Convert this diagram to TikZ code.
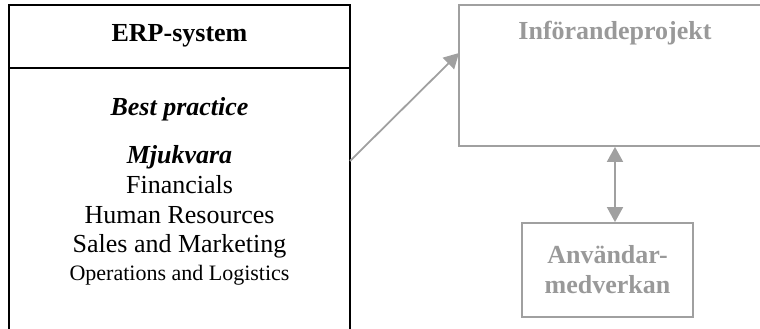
\documentclass[tikz,border=0pt]{standalone}
\usepackage{fontspec}
\setmainfont{Liberation Serif}
\usetikzlibrary{arrows.meta}
\definecolor{linegray}{RGB}{160,160,160}
\definecolor{textgray}{RGB}{153,153,153}
\begin{document}
\begin{tikzpicture}[x=1pt,y=-1pt,
  blackbox/.style={draw=black,line width=1.3pt,rectangle,inner sep=0pt},
  graybox/.style={draw=linegray,line width=1.8pt,rectangle,inner sep=0pt},
  label/.style={anchor=base,inner sep=0pt,font=\fontsize{26}{29.5}\selectfont},
  small/.style={anchor=base,inner sep=0pt,font=\fontsize{22}{26}\selectfont},
  grayarrow/.style={draw=linegray,line width=1.8pt,-{Triangle[length=15pt,width=16pt]}}]
\clip (0,0) rectangle (760,329);
% ERP system box (open at the bottom of the page)
\node[blackbox,minimum width=341pt,minimum height=340pt] (erp) at (179.5,175) {};
\draw[black,line width=1.3pt] (9,68) coordinate (divl) -- (350,68) coordinate (divr);
\node[label,font=\fontsize{26}{29.5}\selectfont\bfseries] (erptitle) at (179.5,42) {ERP-system};
\node[label,font=\fontsize{26}{29.5}\selectfont\bfseries\itshape] (best) at (179.5,115) {Best practice};
\node[label,font=\fontsize{26}{29.5}\selectfont\bfseries\itshape] (mjuk) at (179.5,163) {Mjukvara};
\node[label] (fin) at (179.5,193) {Financials};
\node[label] (hr) at (179.5,223) {Human Resources};
\node[label] (sales) at (179.5,252) {Sales and Marketing};
\node[small] (ops) at (179.5,280) {Operations and Logistics};
% implementation project box
\node[graybox,minimum width=312pt,minimum height=141pt] (inf) at (615,75.5) {};
\node[label,font=\fontsize{26}{29.5}\selectfont\bfseries,text=textgray] (inftitle) at (615,40) {Införandeprojekt};
% user participation box
\node[graybox,minimum width=171pt,minimum height=94pt,align=center,
  font=\fontsize{26}{30}\selectfont\bfseries,text=textgray] (anv) at (607.5,270) {Användar-\\medverkan};
% connectors
\coordinate (erpout) at (350,161);
\coordinate (infin) at (459,53);
\draw[grayarrow] (erpout) -- (infin);
\draw[grayarrow,{Triangle[length=15pt,width=16pt]}-{Triangle[length=15pt,width=16pt]}]
  (inf.south) -- (inf.south |- anv.north);
\end{tikzpicture}
\end{document}
